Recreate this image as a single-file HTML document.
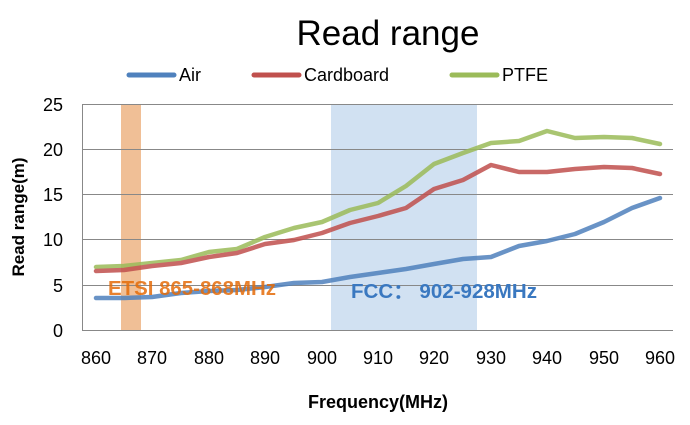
<!DOCTYPE html>
<html><head><meta charset="utf-8"><style>
body{margin:0;background:#fff}
svg text{font-family:"Liberation Sans",sans-serif}
</style></head><body>
<svg width="690" height="420" xmlns="http://www.w3.org/2000/svg">
<rect width="690" height="420" fill="#fff"/>
<text x="388" y="45" font-size="35" text-anchor="middle" fill="#000">Read range</text>
<line x1="129" y1="75" x2="174" y2="75" stroke="#4f81bd" stroke-width="5" stroke-linecap="round"/>
<text x="179" y="81" font-size="18">Air</text>
<line x1="254" y1="75" x2="299" y2="75" stroke="#c0504d" stroke-width="5" stroke-linecap="round"/>
<text x="304" y="81" font-size="18">Cardboard</text>
<line x1="452" y1="75" x2="497" y2="75" stroke="#9bbb59" stroke-width="5" stroke-linecap="round"/>
<text x="502" y="81" font-size="18">PTFE</text>
<rect x="121" y="104" width="20" height="226" fill="#e9a46a" opacity="0.7"/>
<rect x="331" y="104" width="146" height="226" fill="#c6d9ef" opacity="0.8"/>
<g stroke="#888" stroke-width="1">
<line x1="82" y1="104.5" x2="673" y2="104.5"/>
<line x1="82" y1="149.5" x2="673" y2="149.5"/>
<line x1="82" y1="194.5" x2="673" y2="194.5"/>
<line x1="82" y1="239.5" x2="673" y2="239.5"/>
<line x1="82" y1="285.5" x2="673" y2="285.5"/>
<line x1="82" y1="330.5" x2="673" y2="330.5"/>
<line x1="82.5" y1="104" x2="82.5" y2="330"/>
</g>
<g font-size="18" text-anchor="end">
<text x="63" y="111">25</text><text x="63" y="156">20</text><text x="63" y="201">15</text>
<text x="63" y="246">10</text><text x="63" y="292">5</text><text x="63" y="337">0</text>
</g>
<g font-size="18" text-anchor="middle">
<text x="96" y="364">860</text><text x="152" y="364">870</text><text x="209" y="364">880</text>
<text x="265" y="364">890</text><text x="322" y="364">900</text><text x="378" y="364">910</text>
<text x="434" y="364">920</text><text x="491" y="364">930</text><text x="547" y="364">940</text>
<text x="604" y="364">950</text><text x="660" y="364">960</text>
</g>
<text x="378" y="408" font-size="18" font-weight="bold" text-anchor="middle">Frequency(MHz)</text>
<text transform="translate(24,217) rotate(-90)" font-size="17" font-weight="bold" text-anchor="middle">Read range(m)</text>
<g fill="none" stroke-width="4.5" stroke-linejoin="round" stroke-linecap="round" opacity="0.85">
<polyline stroke="#9bbb59" points="96,267 124,266 152,263 181,260 209,252 237,249 265,237 294,228 322,222 350,210 378,203 406,186 434,164 463,153 491,143 519,141 547,131 575,138 604,137 632,138 660,144"/>
<polyline stroke="#c0504d" points="96,271 124,270 152,266 181,263 209,257 237,253 265,244 294,240 322,233 350,223 378,216 406,208 434,189 463,180 491,165 519,172 547,172 575,169 604,167 632,168 660,174"/>
<polyline stroke="#4f81bd" points="96,298 124,298 152,297 181,293 209,291 237,290 265,287 294,283 322,282 350,277 378,273 406,269 434,264 463,259 491,257 519,246 547,241 575,234 604,222 632,208 660,198"/>
</g>
<text x="108" y="295" font-size="20" font-weight="bold" fill="#e46c0a" opacity="0.85" textLength="168" lengthAdjust="spacingAndGlyphs">ETSI 865-868MHz</text>
<text x="351" y="298" font-size="20" font-weight="bold" fill="#3a78c0" textLength="186" lengthAdjust="spacingAndGlyphs">FCC： 902-928MHz</text>
</svg>
</body></html>
